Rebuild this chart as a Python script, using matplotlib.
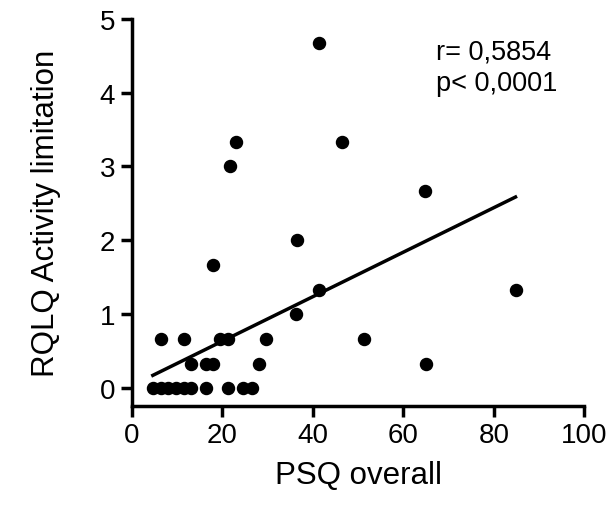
import numpy as np
import matplotlib
matplotlib.use("Agg")
import matplotlib.pyplot as plt

plt.rcParams['font.family'] = ['Liberation Sans', 'DejaVu Sans']

# PSQ overall (x) vs RQLQ activity limitation (y)
psq = [4.6, 6.3, 8.0, 9.7, 11.4, 13.1, 16.4, 21.3, 24.6, 26.5,
       13.1, 16.4, 18.0, 28.0,
       6.4, 11.4, 19.5, 21.3, 29.6, 51.3, 65.0,
       36.3, 41.4, 84.8, 18.0, 36.4, 64.7,
       21.6, 23.0, 46.5, 41.4]
rqlq = [0, 0, 0, 0, 0, 0, 0, 0, 0, 0,
        0.33, 0.33, 0.33, 0.33,
        0.67, 0.67, 0.67, 0.67, 0.67, 0.67, 0.33,
        1.0, 1.33, 1.33, 1.67, 2.0, 2.67,
        3.0, 3.33, 3.33, 4.67]

# regression line
slope = 0.0301
intercept = 0.034
r_text = "r= 0,5854\np< 0,0001"

fig = plt.figure(figsize=(6.07, 5.06), dpi=100)
ax = fig.add_axes([0.2175, 0.196, 0.745, 0.765])

ax.scatter(psq, rqlq, s=75, color='black', zorder=3)
xs = np.array([min(psq), max(psq)])
ax.plot(xs, slope * xs + intercept, color='black', lw=2.5)

ax.set_xlim(0, 100)
ax.set_ylim(-0.24, 5)
ax.set_xticks([0, 20, 40, 60, 80, 100])
ax.set_yticks([0, 1, 2, 3, 4, 5])
ax.spines['top'].set_visible(False)
ax.spines['right'].set_visible(False)
ax.spines['left'].set_bounds(-0.24, 5)
for s in ['left', 'bottom']:
    ax.spines[s].set_linewidth(2.5)
ax.tick_params(direction='out', length=8, width=2.5, labelsize=20, pad=4)

ax.set_xlabel("PSQ overall", fontsize=22.5, labelpad=8)
ax.set_ylabel("RQLQ Activity limitation", fontsize=22.5, labelpad=28)

ax.text(0.673, 0.95, r_text, transform=ax.transAxes, fontsize=19.5,
        va='top', ha='left', linespacing=1.3)

fig.savefig("out.png", dpi=100)
